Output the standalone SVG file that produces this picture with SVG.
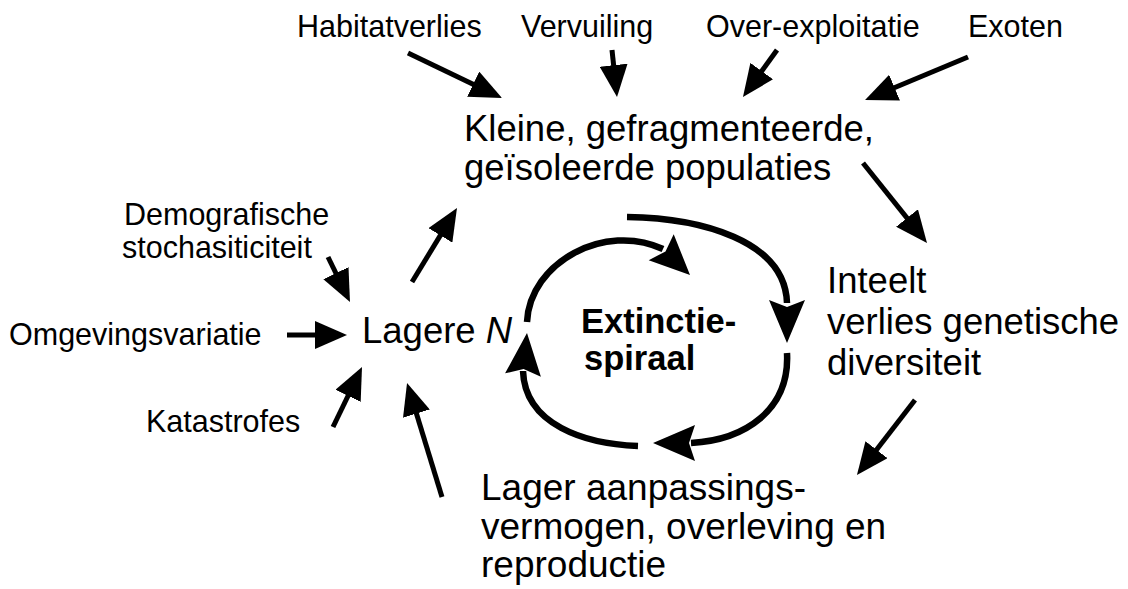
<svg xmlns="http://www.w3.org/2000/svg" width="1128" height="589" viewBox="0 0 1128 589">
<defs>
<style>
.s{font-family:"Liberation Sans",Arial,sans-serif;font-size:30.5px;fill:#000}
.l{font-family:"Liberation Sans",Arial,sans-serif;font-size:36.5px;fill:#000}
.lb{font-family:"Liberation Sans",Arial,sans-serif;font-size:37px;fill:#000}
.b{font-family:"Liberation Sans",Arial,sans-serif;font-size:34.5px;font-weight:bold;fill:#000}
.ln{stroke:#000;stroke-width:5;fill:none}
.arc{stroke:#000;stroke-width:6.5;fill:none}
.hd{fill:#000;stroke:none}
</style>
<marker id="ah" markerUnits="userSpaceOnUse" viewBox="0 0 32 28" markerWidth="32" markerHeight="28" refX="12" refY="14" orient="auto">
<path d="M0,0 L32,14 L0,28 z" fill="#000"/>
</marker>
</defs>
<rect width="1128" height="589" fill="#fff"/>

<g id="habitatverlies"><text class="s" x="297" y="37">Habitatverlies</text></g>
<g id="vervuiling"><text class="s" x="521" y="37">Vervuiling</text></g>
<g id="overexploitatie"><text class="s" x="706" y="37">Over-exploitatie</text></g>
<g id="exoten"><text class="s" x="968" y="37">Exoten</text></g>

<g id="kleine-populaties"><text class="l" x="464" y="141">Kleine, gefragmenteerde,</text><text class="l" x="464" y="180">geïsoleerde populaties</text></g>

<g id="demografische"><text class="s" x="124" y="225">Demografische</text><text class="s" x="122" y="258">stochasiticiteit</text></g>
<g id="omgevingsvariatie"><text class="s" x="9" y="345">Omgevingsvariatie</text></g>
<g id="katastrofes"><text class="s" x="146" y="432">Katastrofes</text></g>

<g id="lagere-n"><text class="l" x="362" y="343">Lagere <tspan font-style="italic">N</tspan></text></g>

<g id="inteelt"><text class="l" x="827" y="293">Inteelt</text><text class="l" x="827" y="334">verlies genetische</text><text class="l" x="827" y="375">diversiteit</text></g>

<g id="lager-aanpassing"><text class="lb" x="481" y="500">Lager aanpassings-</text><text class="lb" x="481" y="539">vermogen, overleving en</text><text class="lb" x="481" y="577">reproductie</text></g>

<g id="extinctie-spiraal"><text class="b" x="581" y="333">Extinctie-</text><text class="b" x="584" y="370">spiraal</text></g>

<g id="connectors">
<line class="ln" x1="408" y1="53" x2="484" y2="89.4" marker-end="url(#ah)"/>
<line class="ln" x1="612" y1="50" x2="614.9" y2="77.1" marker-end="url(#ah)"/>
<line class="ln" x1="777" y1="50" x2="754.7" y2="80.8" marker-end="url(#ah)"/>
<line class="ln" x1="968" y1="57" x2="883.5" y2="92.3" marker-end="url(#ah)"/>
<line class="ln" x1="863" y1="163" x2="914.5" y2="227.4" marker-end="url(#ah)"/>
<line class="ln" x1="915" y1="400" x2="869.2" y2="459.2" marker-end="url(#ah)"/>
<line class="ln" x1="412" y1="282" x2="446.6" y2="225.1" marker-end="url(#ah)"/>
<line class="ln" x1="442" y1="497" x2="412.9" y2="402.1" marker-end="url(#ah)"/>
<line class="ln" x1="287" y1="335" x2="327" y2="335" marker-end="url(#ah)"/>
<line class="ln" x1="328" y1="257" x2="341.2" y2="284" marker-end="url(#ah)"/>
<line class="ln" x1="333" y1="427" x2="353.3" y2="385" marker-end="url(#ah)"/>

<path class="arc" d="M627,217 C700,218 785,240 787,303"/>
<polygon class="hd" points="787,343 769,300 787,307 805,300"/>
<path class="arc" d="M527,322 C530,262 605,222 663,249"/>
<polygon class="hd" points="690,275 648.7,260.2 665.5,251.4 673.7,234.2"/>
<path class="arc" d="M787,353 C790,410 745,440 691,443"/>
<polygon class="hd" points="653,443 695,425 689,443 695,461"/>
<path class="arc" d="M638,446 C585,444 525,425 523,371"/>
<polygon class="hd" points="527,333 540.9,376.7 523.6,369 505.1,373.3"/>
</g>
</svg>
